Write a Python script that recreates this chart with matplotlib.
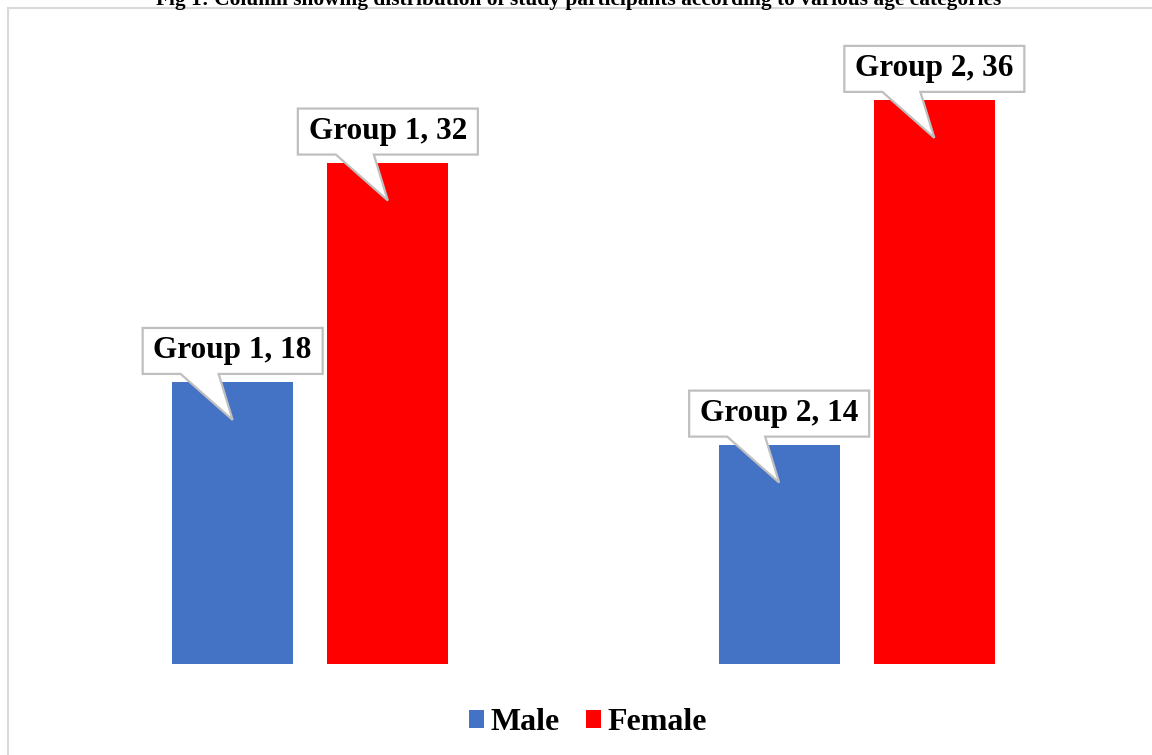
import matplotlib
matplotlib.use('Agg')
import matplotlib.pyplot as plt
import matplotlib.transforms as mtransforms
from matplotlib.patches import Polygon, Rectangle
import numpy as np

# data
groups = ['Group 1', 'Group 2']
male = [18, 14]
female = [32, 36]
series_names = ['Male', 'Female']
colors = ['#4472c4', '#ff0000']
title = 'Fig 1: Column showing distribution of study participants according to various age categories'

plt.rcParams['font.family'] = ['Liberation Serif', 'DejaVu Serif']
plt.rcParams['font.weight'] = 'bold'

fig = plt.figure(figsize=(11.52, 7.55), dpi=100)
ax = fig.add_axes([37 / 1152, 91 / 755, 1093 / 1152, 626.8 / 755])

x = np.arange(len(groups))
w = 0.2216
off = 0.142
b1 = ax.bar(x - off, male, w, color=colors[0], label=series_names[0], zorder=2)
b2 = ax.bar(x + off, female, w, color=colors[1], label=series_names[1], zorder=2)

ax.set_xlim(-0.5, 1.5)
ax.set_ylim(0, 40)
ax.axis('off')


def callout(xd, yd, text):
    # shape in inches relative to the bar top (dpi 100 -> px / 100)
    trans = fig.dpi_scale_trans + mtransforms.ScaledTranslation(xd, yd, ax.transData)
    pts = np.array([(-90, 8), (-52, 8), (0, -38), (-14, 8), (90, 8), (90, 54), (-90, 54)]) / 100.0
    poly = Polygon(pts, closed=True, facecolor='white', edgecolor='#bfbfbf',
                   linewidth=1.6, transform=trans, zorder=5, clip_on=False)
    ax.add_patch(poly)
    ax.text(0, 0.31, text, transform=trans, ha='center', va='center',
            fontsize=22.5, fontweight='bold', color='black', zorder=6)


for i, g in enumerate(groups):
    callout(x[i] - off, male[i], f'{g}, {male[i]}')
    callout(x[i] + off, female[i], f'{g}, {female[i]}')

# outer chart border (extends past right / bottom edge)
fig.patches.append(Rectangle((8 / 1152, -0.1), 1.2, 1 - 8 / 755 + 0.1,
                             transform=fig.transFigure, fill=False,
                             edgecolor='#d9d9d9', linewidth=1.5))

# title is clipped at the top edge in the original too
fig.text(578.5 / 1152, 1 - 4.5 / 755, title, ha='center', va='baseline',
         fontsize=15.4, fontweight='bold')

ax.legend(loc='center', bbox_to_anchor=(588 / 1152, 1 - 723 / 755),
          bbox_transform=fig.transFigure, ncol=2, frameon=False,
          handlelength=0.47, handleheight=0.47, handletextpad=0.2,
          columnspacing=0.85, prop={'size': 23, 'weight': 'bold'})

fig.savefig('out.png', dpi=100)
